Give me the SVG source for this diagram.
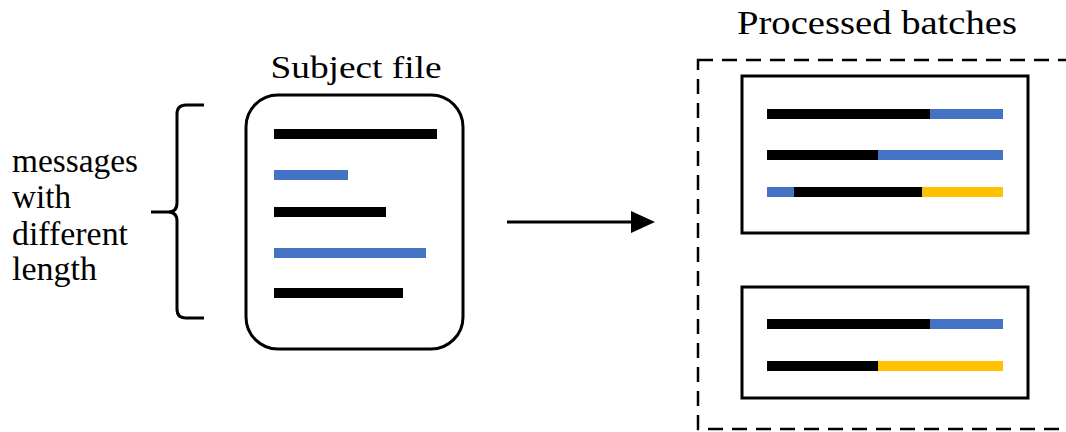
<svg xmlns="http://www.w3.org/2000/svg" width="1066" height="432" viewBox="0 0 1066 432">
<style>
text{font-family:'Liberation Serif','Times New Roman',Times,serif;fill:#000}
.blk{fill:#000}.blu{fill:#4472C4}.yel{fill:#FFC000}
.box{fill:#fff;stroke:#000;stroke-width:3}
</style>
<defs>
<marker id="ah" markerWidth="24" markerHeight="22" refX="0" refY="11" orient="auto" markerUnits="userSpaceOnUse">
<path d="M0,0 L24,11 L0,22 Z" fill="#000"/>
</marker>
</defs>
<rect width="1066" height="432" fill="#fff"/>
<g id="label-messages">
<text x="12" y="172" font-size="33" textLength="126" lengthAdjust="spacingAndGlyphs">messages</text>
<text x="12" y="208" font-size="33" textLength="59" lengthAdjust="spacingAndGlyphs">with</text>
<text x="12" y="245" font-size="33" textLength="116" lengthAdjust="spacingAndGlyphs">different</text>
<text x="12" y="280" font-size="33" textLength="85" lengthAdjust="spacingAndGlyphs">length</text>
</g>
<g id="brace">
<path d="M204,105 L186,105 Q177,105 177,114 L177,203 Q177,212 168,212 L151,212 M168,212 Q177,212 177,221 L177,309 Q177,318 186,318 L204,318" fill="none" stroke="#000" stroke-width="3"/>
</g>
<g id="subject-file">
<text x="356" y="78" font-size="31" text-anchor="middle" textLength="171" lengthAdjust="spacingAndGlyphs">Subject file</text>
<rect class="box" x="246" y="95" width="217" height="254" rx="32"/>
<rect class="blk" x="274" y="129" width="163" height="10"/>
<rect class="blu" x="274" y="170" width="74" height="10"/>
<rect class="blk" x="274" y="207" width="112" height="10"/>
<rect class="blu" x="274" y="248" width="152" height="10"/>
<rect class="blk" x="274" y="288" width="129" height="10"/>
</g>
<g id="connectors">
<line x1="507" y1="222" x2="631" y2="222" stroke="#000" stroke-width="3" marker-end="url(#ah)"/>
</g>
<g id="processed-batches">
<text x="737" y="34" font-size="34" textLength="280" lengthAdjust="spacingAndGlyphs">Processed batches</text>
<rect x="698" y="60" width="380" height="369" fill="none" stroke="#000" stroke-width="2.5" stroke-dasharray="15,9"/>
</g>
<g id="batch-1">
<rect class="box" x="742" y="76" width="286" height="157"/>
<rect class="blk" x="767" y="109" width="163" height="10"/>
<rect class="blu" x="930" y="109" width="73" height="10"/>
<rect class="blk" x="767" y="150" width="111" height="10"/>
<rect class="blu" x="878" y="150" width="125" height="10"/>
<rect class="blu" x="767" y="187" width="27" height="10"/>
<rect class="blk" x="794" y="187" width="128" height="10"/>
<rect class="yel" x="922" y="187" width="81" height="10"/>
</g>
<g id="batch-2">
<rect class="box" x="742" y="287" width="286" height="111"/>
<rect class="blk" x="767" y="319" width="163" height="10"/>
<rect class="blu" x="930" y="319" width="73" height="10"/>
<rect class="blk" x="767" y="361" width="111" height="10"/>
<rect class="yel" x="878" y="361" width="125" height="10"/>
</g>
</svg>
